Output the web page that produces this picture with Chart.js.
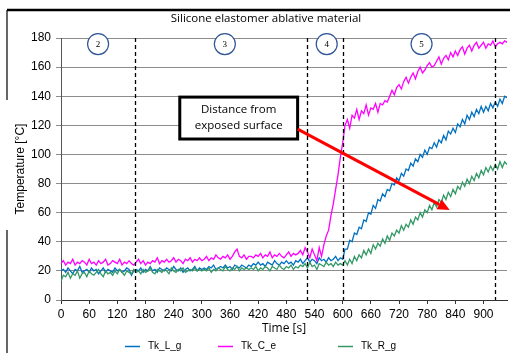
<!DOCTYPE html>
<html lang="en">
<head>
<meta charset="UTF-8">
<title>Silicone elastomer ablative material</title>
<script src="https://cdn.jsdelivr.net/npm/chart.js"></script>
<style>
  html, body { margin: 0; padding: 0; background: #fff; }
  #wrap { position: relative; width: 510px; height: 353px; }
</style>
</head>
<body>
<div id="wrap"><canvas id="chart" width="510" height="353"></canvas></div>
<script>
// ---- data ----
const timeStep = 5; // seconds between samples, first sample at 0 s
const seriesNames = ['Tk_L_g', 'Tk_C_e', 'Tk_R_g'];

// one line per 100 s
const tkL = [
  20,21,19,22,20,18,21,20,23,19,20,21,19,22,20,21,18,20,22,19,
  21,20,19,22,20,21,19,20,22,21,17,20,21,20,22,19,21,20,23,20,
  21,19,22,21,20,22,21,20,23,21,20,22,19,21,22,20,21,23,20,22,
  21,22,21,23,22,24,21,22,23,22,24,22,23,21,24,23,22,24,23,22,
  24,23,25,24,26,24,25,23,26,25,24,27,25,24,26,25,27,25,26,24,
  27,26,28,25,27,29,26,28,27,25,29,27,28,26,29,27,28,30,27,29,
  28,35,35,41,40,46,45,50,49,55,54,60,59,65,63,69,68,73,71,76,
  75,80,79,84,82,87,85,90,89,94,92,97,95,100,98,103,100,105,104,108,
  105,110,108,113,110,116,114,118,115,121,119,124,121,127,124,129,126,131,128,133,
  129,133,130,135,132,136,133,138,135,140,139
];
const tkC = [
  25,27,24,26,25,28,24,26,25,27,26,24,28,25,26,24,27,25,26,28,
  24,25,27,26,25,28,24,26,25,27,25,24,26,28,25,27,24,26,25,27,
  26,29,25,27,26,28,26,27,29,26,28,27,25,28,27,29,26,28,27,29,
  27,28,30,27,29,28,31,29,28,30,29,31,28,30,33,35,30,29,31,28,
  30,30,29,31,30,32,29,31,30,33,29,31,30,32,30,29,31,33,30,32,
  31,32,34,31,36,33,29,35,31,27,36,30,38,44,48,58,66,76,86,98,
  108,120,124,118,127,125,131,124,130,128,134,127,132,131,135,129,135,134,137,136,
  140,144,141,146,148,145,150,153,149,153,156,152,157,160,156,158,161,163,160,161,
  164,167,162,166,168,165,170,167,171,168,172,174,169,173,175,171,175,177,173,175,
  177,173,176,175,178,174,176,177,176,178,177
];
const tkR = [
  13,17,16,19,15,18,17,20,15,18,19,16,20,18,17,19,21,18,16,20,
  18,19,17,20,18,21,19,17,20,19,18,21,19,20,18,21,19,20,22,19,
  18,21,20,19,21,20,18,22,20,19,21,20,22,19,20,21,20,22,20,21,
  20,21,20,22,19,21,20,22,21,20,23,21,20,22,21,23,20,22,21,22,
  21,22,21,23,20,22,21,23,22,20,23,22,21,24,22,21,23,22,24,21,
  23,22,24,23,25,22,26,23,24,21,25,24,23,26,24,25,23,26,24,25,
  24,27,24,28,25,30,27,31,29,34,31,35,32,38,35,39,37,42,39,44,
  41,46,44,48,46,51,48,52,50,55,52,57,55,60,57,62,60,65,62,67,
  64,69,67,72,69,74,71,76,73,78,76,81,78,83,80,85,82,87,84,89,
  86,91,88,92,89,93,90,95,91,95,93
];

const phaseBounds = [157, 525, 600, 925];      // dashed separators [s]
const phaseNames = ['2', '3', '4', '5'];
const phaseMid = [79, 349, 566, 768];           // where the circled numbers sit [s]

const chartTitle = 'Silicone elastomer ablative material';
const noteLines = ['Distance from', 'exposed surface'];

// ---- look ----
const colors = ['#0070c0', '#ff00ff', '#339966'];
const legendX = [125, 218, 338];

function toPoints(arr) {
  return arr.map((v, i) => ({ x: i * timeStep, y: v }));
}

const extras = {
  id: 'extras',
  afterDraw(chart) {
    const ctx = chart.ctx;
    const xs = chart.scales.x, ys = chart.scales.y;
    const area = chart.chartArea;
    ctx.save();

    // frame bits around the figure
    ctx.strokeStyle = '#000';
    ctx.lineWidth = 2.5;
    ctx.beginPath(); ctx.moveTo(7, 10); ctx.lineTo(510, 10); ctx.stroke();
    ctx.lineWidth = 1.2;
    ctx.beginPath(); ctx.moveTo(7, 10); ctx.lineTo(7, 100); ctx.stroke();
    ctx.beginPath(); ctx.moveTo(7, 230); ctx.lineTo(7, 353); ctx.stroke();

    // title
    ctx.fillStyle = '#000';
    ctx.font = '11.5px "Open Sans"';
    ctx.textAlign = 'center';
    ctx.textBaseline = 'middle';
    ctx.fillText(chartTitle, 266, 19);

    // dashed phase lines
    ctx.strokeStyle = '#000';
    ctx.lineWidth = 1.3;
    ctx.setLineDash([4, 3]);
    phaseBounds.forEach(t => {
      const px = Math.round(xs.getPixelForValue(t)) + 0.5;
      ctx.beginPath(); ctx.moveTo(px, area.top); ctx.lineTo(px, area.bottom); ctx.stroke();
    });
    ctx.setLineDash([]);

    // circled phase numbers
    const cy = ys.getPixelForValue(175.8);
    phaseNames.forEach((n, i) => {
      const cx = xs.getPixelForValue(phaseMid[i]);
      ctx.fillStyle = '#fff';
      ctx.strokeStyle = '#2f5597';
      ctx.lineWidth = 1.2;
      ctx.beginPath(); ctx.arc(cx, cy, 10.5, 0, Math.PI * 2); ctx.fill(); ctx.stroke();
      ctx.fillStyle = '#000';
      ctx.font = '9px "Liberation Serif"';
      ctx.fillText(n, cx, cy + 0.5);
    });

    // annotation box
    const bx0 = xs.getPixelForValue(253), bx1 = xs.getPixelForValue(504);
    const by0 = ys.getPixelForValue(139.4), by1 = ys.getPixelForValue(110.6);
    ctx.fillStyle = '#fff';
    ctx.fillRect(bx0, by0, bx1 - bx0, by1 - by0);
    ctx.strokeStyle = '#000';
    ctx.lineWidth = 3;
    ctx.strokeRect(bx0, by0, bx1 - bx0, by1 - by0);
    ctx.fillStyle = '#000';
    ctx.font = '11.5px "Open Sans"';
    ctx.fillText(noteLines[0], (bx0 + bx1) / 2, by0 + 13);
    ctx.fillText(noteLines[1], (bx0 + bx1) / 2, by0 + 29);

    // red arrow
    const ax0 = xs.getPixelForValue(504), ay0 = ys.getPixelForValue(117.4);
    const ax1 = xs.getPixelForValue(828), ay1 = ys.getPixelForValue(61.8);
    const ang = Math.atan2(ay1 - ay0, ax1 - ax0);
    const headLen = 12, headW = 5.5;
    const hx = ax1 - headLen * Math.cos(ang), hy = ay1 - headLen * Math.sin(ang);
    ctx.strokeStyle = '#ff0000';
    ctx.fillStyle = '#ff0000';
    ctx.lineWidth = 3;
    ctx.beginPath(); ctx.moveTo(ax0, ay0); ctx.lineTo(hx, hy); ctx.stroke();
    ctx.beginPath();
    ctx.moveTo(ax1, ay1);
    ctx.lineTo(hx + headW * Math.sin(ang), hy - headW * Math.cos(ang));
    ctx.lineTo(hx - headW * Math.sin(ang), hy + headW * Math.cos(ang));
    ctx.closePath(); ctx.fill();

    // legend
    ctx.font = '10px "Liberation Sans"';
    ctx.textAlign = 'left';
    seriesNames.forEach((name, i) => {
      ctx.strokeStyle = colors[i];
      ctx.lineWidth = 1.5;
      ctx.beginPath(); ctx.moveTo(legendX[i], 346.5); ctx.lineTo(legendX[i] + 15, 346.5); ctx.stroke();
      ctx.fillStyle = '#000';
      ctx.fillText(name, legendX[i] + 23, 346);
    });

    ctx.restore();
  }
};

new Chart(document.getElementById('chart'), {
  type: 'line',
  data: {
    datasets: [
      { label: seriesNames[0], data: toPoints(tkL), borderColor: colors[0], order: 2 },
      { label: seriesNames[1], data: toPoints(tkC), borderColor: colors[1], order: 1 },
      { label: seriesNames[2], data: toPoints(tkR), borderColor: colors[2], order: 0 }
    ]
  },
  options: {
    responsive: false,
    animation: false,
    devicePixelRatio: 1,
    layout: { padding: { top: 38, right: 3, left: 0, bottom: 0 } },
    elements: {
      point: { radius: 0 },
      line: { borderWidth: 1.3, tension: 0 }
    },
    plugins: {
      legend: { display: false },
      tooltip: { enabled: false }
    },
    scales: {
      x: {
        type: 'linear',
        min: 0,
        max: 950,
        ticks: {
          stepSize: 60,
          includeBounds: false,
          autoSkip: false,
          maxRotation: 0,
          padding: 3,
          color: '#000',
          font: { family: 'Liberation Sans', size: 12 }
        },
        grid: { drawOnChartArea: false, tickLength: 4, color: '#333' },
        border: { color: '#333' },
        title: {
          display: true,
          text: 'Time [s]',
          color: '#000',
          font: { family: 'Open Sans', size: 12 },
          padding: { top: 0, bottom: 17 }
        },
        afterFit(s) { s.height = 53; }
      },
      y: {
        min: 0,
        max: 180,
        ticks: {
          stepSize: 10,
          padding: 5,
          color: '#000',
          font: { family: 'Liberation Sans', size: 12 }
        },
        grid: { color: '#8c8c8c', tickLength: 5 },
        border: { color: '#555' },
        title: {
          display: true,
          text: 'Temperature [°C]',
          color: '#000',
          font: { family: 'Liberation Sans', size: 12 },
          padding: { top: 13, bottom: 0 }
        },
        afterFit(s) { s.width = 61; }
      }
    }
  },
  plugins: [extras]
});
</script>
</body>
</html>
